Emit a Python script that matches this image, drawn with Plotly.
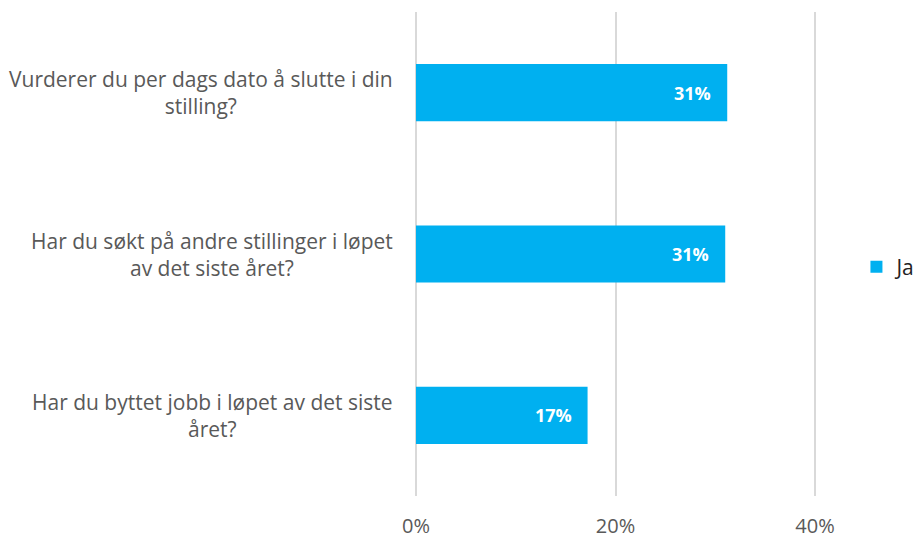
import plotly.graph_objects as go

# ===== Data =====
categories = [
    "Vurderer du per dags dato å slutte i din stilling?",
    "Har du søkt på andre stillinger i løpet av det siste året?",
    "Har du byttet jobb i løpet av det siste året?",
]
wrapped_labels = [
    "Vurderer du per dags dato å slutte i din<br>stilling?",
    "Har du søkt på andre stillinger i løpet<br>av det siste året?",
    "Har du byttet jobb i løpet av det siste<br>året?",
]
ja_values = [0.312, 0.310, 0.172]
value_labels = ["31%", "31%", "17%"]
x_ticks = [0, 0.2, 0.4]
x_tick_labels = ["0%", "20%", "40%"]

FONT = "Open Sans, Calibri, sans-serif"
GREY = "#595959"
BLUE = "#00B0F0"

fig = go.Figure()
fig.add_trace(go.Bar(
    x=ja_values,
    y=categories,
    orientation="h",
    name="Ja",
    marker=dict(color=BLUE, line=dict(width=0)),
    hoverinfo="x+y",
))

# kategori-etiketter, sentrert over to linjer (som i Excel)
for cat, lab in zip(categories, wrapped_labels):
    fig.add_annotation(
        x=0, xref="x", y=cat, yref="y",
        text=lab, showarrow=False,
        xanchor="right", yanchor="middle",
        align="center", xshift=-21,
        font=dict(family=FONT, size=21, color=GREY),
    )

# verdi-etiketter inne i søylene
for cat, val, lab in zip(categories, ja_values, value_labels):
    fig.add_annotation(
        x=val, y=cat, text="<b>%s</b>" % lab, showarrow=False,
        xanchor="right", yanchor="middle", xshift=-14,
        font=dict(family=FONT, size=18, color="white"),
    )

# siden har 8px body-marg, så figuren er litt mindre enn vinduet
fig.update_layout(
    width=916, height=533,
    margin=dict(l=404, r=105, t=4, b=45, autoexpand=False),
    paper_bgcolor="white", plot_bgcolor="white",
    bargap=0.646,
    showlegend=True,
    legend=dict(
        x=1.092, y=0.473, xanchor="left", yanchor="middle",
        font=dict(family=FONT, size=21, color="#222222"),
        itemwidth=30,
    ),
    font=dict(family=FONT, color=GREY),
)
fig.update_xaxes(
    range=[-0.004, 0.404],
    tickvals=x_ticks, ticktext=x_tick_labels,
    showgrid=True, gridcolor="#d9d9d9", gridwidth=2,
    zeroline=False, showline=False,
    tickfont=dict(family=FONT, size=20, color=GREY),
    ticklabelstandoff=16,
)
fig.update_yaxes(
    categoryorder="array", categoryarray=categories,
    autorange="reversed",
    showticklabels=False, showgrid=False, zeroline=False, showline=False,
)

fig.write_html("out.html")
